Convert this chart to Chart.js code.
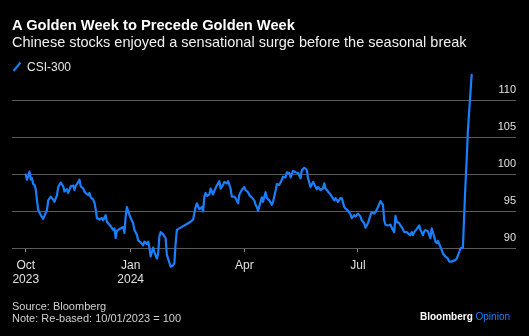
<!DOCTYPE html>
<html>
<head>
<meta charset="utf-8">
<script src="https://cdn.jsdelivr.net/npm/chart.js@4"></script>
<style>
  html, body { margin: 0; padding: 0; background: #000; }
  #wrap { position: relative; width: 529px; height: 336px; overflow: hidden; background: #000;
          font-family: "Liberation Sans", Arial, Helvetica, sans-serif; }
  #chart { position: absolute; left: 0; top: 0; }
  .t { position: absolute; white-space: nowrap; line-height: 1; }
  #title { left: 12px; top: 17.5px; font-size: 14.7px; font-weight: bold; color: #fff; }
  #subtitle { left: 12px; top: 34.6px; font-size: 14.5px; color: #f0f0f0; }
  #legend { left: 12px; top: 61px; font-size: 12px; color: #e6e6e6; }
  #legend svg { position: absolute; left: 0; top: 0; }
  #legend span { position: absolute; left: 15px; top: 0; }
  #source { left: 12px; top: 300.7px; font-size: 11px; color: #d0d0d0; }
  #note { left: 12px; top: 313px; font-size: 11px; color: #d0d0d0; }
  #brand { right: 19px; top: 311.5px; font-size: 10px; color: #fff; }
  #brand b { font-weight: bold; }
  #brand i { font-style: normal; color: #1a7fff; }
</style>
</head>
<body>
<div id="wrap">
  <canvas id="chart" width="529" height="336"></canvas>
  <div class="t" id="title">A Golden Week to Precede Golden Week</div>
  <div class="t" id="subtitle">Chinese stocks enjoyed a sensational surge before the seasonal break</div>
  <div class="t" id="legend">
    <svg width="12" height="12"><line x1="1.5" y1="10" x2="8.5" y2="1.5" stroke="#1a7fff" stroke-width="2"/></svg>
    <span>CSI-300</span>
  </div>
  <div class="t" id="source">Source: Bloomberg</div>
  <div class="t" id="note">Note: Re-based: 10/01/2023 = 100</div>
  <div class="t" id="brand"><b>Bloomberg</b> <i>Opinion</i></div>
</div>
<script>
// Days counted from 1 Oct 2023; index level re-based to 100
const days = [
  8, 9, 10, 11, 12, 13, 14, 15, 16, 17, 18, 20, 22, 23, 25, 26, 28, 30, 31, 33, 34, 36, 38, 39, 41, 42, 44, 46, 47, 48, 49, 51, 52, 54, 55, 56, 58, 59, 60, 62, 63, 64, 65, 67, 69, 70, 72, 73, 74, 76, 78,
  79, 80, 81, 82, 84, 86, 87, 88, 89, 90, 92, 94, 95, 97, 98, 100, 102, 103, 105, 106, 107, 108, 110, 111, 113, 114, 115, 116, 118, 120, 121, 122, 124, 126, 127, 128, 129, 133, 137, 140, 142, 144, 145, 147, 149, 150,
  151, 152, 153, 155, 156, 158, 159, 161, 163, 164, 166, 167, 169, 170, 172, 173, 175, 176, 178, 179, 181, 183, 184, 186, 187, 189, 191, 192, 193, 194, 196, 197, 198, 200, 201, 203, 205, 206, 208, 209, 211, 213, 214, 216, 217, 219, 220, 222,
  223, 224, 226, 228, 229, 231, 232, 233, 234, 236, 238, 239, 241, 242, 244, 246, 247, 248, 250, 252, 253, 255, 256, 258, 260, 261, 263, 264, 266, 268, 269, 271, 272, 274, 276, 277, 279, 280, 282, 284, 285, 287, 288, 290, 292, 293, 294,
  295, 296, 298, 300, 301, 303, 304, 305, 307, 308, 310, 311, 313, 315, 316, 317, 318, 319, 321, 323, 324, 326, 327, 328, 330, 332, 333, 335, 336, 337, 338, 340, 341, 342, 344, 346, 347, 349, 350, 352, 353, 355, 356, 358, 359, 360, 361, 362, 365
];
const csi300 = [
  100.0, 99.3, 99.8, 100.4, 99.35, 99.5, 98.7, 98.6, 98.0, 96.5, 95.2, 94.5, 94.0, 94.4, 95.2, 96.5, 97.0, 96.6, 96.3, 97.2, 98.3, 98.9, 98.4, 97.7, 98.0, 97.5, 98.4, 98.5, 97.9, 98.5, 98.7, 99.3, 98.4, 98.1, 97.7, 97.5, 97.2, 97.5, 96.9, 96.6, 96.2, 95.3, 94.1, 93.9, 94.1, 93.8, 94.5, 93.6, 93.4, 93.0, 92.5,
  92.7, 91.4, 92.4, 92.5, 92.7, 92.9, 92.1, 94.3, 95.6, 95.0, 94.1, 93.4, 92.5, 91.8, 91.1, 90.8, 90.4, 90.9, 90.6, 90.9, 90.1, 88.9, 90.1, 89.5, 88.6, 89.3, 91.6, 92.2, 91.9, 91.4, 89.1, 88.6, 87.5, 87.7, 88.0, 90.7, 92.5, 92.9, 93.3, 93.6, 93.9, 95.6, 96.1, 95.3, 95.6, 95.0,
  97.0, 97.5, 97.1, 97.3, 98.1, 97.3, 97.8, 98.5, 99.1, 98.1, 98.6, 99.0, 98.8, 99.1, 98.1, 97.0, 97.0, 96.8, 96.1, 97.3, 97.9, 98.3, 97.9, 97.6, 97.2, 96.9, 96.5, 95.9, 95.6, 95.1, 96.3, 96.9, 96.3, 97.6, 96.8, 96.5, 95.9, 96.3, 97.8, 98.7, 98.6, 99.3, 99.7, 99.6, 100.3, 100.2, 99.6, 100.5,
  100.4, 100.3, 100.2, 99.5, 100.6, 100.9, 100.8, 100.6, 99.5, 98.3, 99.0, 98.7, 98.0, 98.3, 97.9, 98.1, 98.8, 98.1, 97.7, 97.3, 97.0, 96.5, 96.8, 96.3, 96.8, 96.8, 95.6, 95.4, 95.1, 94.6, 94.1, 94.5, 94.3, 94.7, 94.3, 93.8, 93.4, 92.8, 93.4, 94.5, 94.9, 94.7, 94.9, 95.6, 96.4, 96.1, 95.9,
  93.8, 93.2, 93.1, 93.2, 92.8, 92.2, 94.4, 93.6, 93.4, 93.1, 92.6, 92.2, 92.2, 91.9, 91.8, 92.2, 91.8, 92.2, 92.6, 93.1, 92.5, 91.8, 92.3, 92.5, 92.3, 91.4, 92.7, 91.6, 90.9, 90.7, 91.0, 90.2, 89.8, 89.3, 88.9, 88.6, 88.2, 88.2, 88.3, 88.4, 88.6, 89.5, 90.0, 90.1, 94.5, 98.5, 102.0, 106.0, 113.5
];

// Axis ticks
const yTicks = [90, 95, 100, 105, 110];
const xTickDays = [8, 92, 183, 274];
const xTickLabels = [['Oct', '2023'], ['Jan', '2024'], 'Apr', 'Jul'];

const BLUE = '#1a7fff';
const FONT = '"Liberation Sans", Arial, Helvetica, sans-serif';

new Chart(document.getElementById('chart'), {
  type: 'line',
  data: {
    datasets: [{
      label: 'CSI-300',
      data: days.map((d, i) => ({ x: d, y: csi300[i] })),
      borderColor: BLUE,
      borderWidth: 2.2,
      pointRadius: 0,
      tension: 0,
      borderJoinStyle: 'round',
      borderCapStyle: 'round'
    }]
  },
  options: {
    responsive: false,
    animation: false,
    devicePixelRatio: 1,
    layout: { padding: { left: 12, right: 13, top: 72, bottom: 47 } },
    plugins: { legend: { display: false }, tooltip: { enabled: false } },
    scales: {
      x: {
        type: 'linear',
        min: -3,
        max: 400.5,
        position: { y: 90 },
        afterBuildTicks: s => { s.ticks = xTickDays.map(v => ({ value: v })); },
        ticks: {
          callback: (v, i) => xTickLabels[i],
          color: '#e0e0e0',
          font: { family: FONT, size: 12, lineHeight: 1.2 },
          maxRotation: 0,
          autoSkip: false,
          padding: 6
        },
        grid: { display: true, drawOnChartArea: false, drawTicks: true, tickLength: 4, color: '#8a8a8a', lineWidth: 1 },
        border: { display: false }
      },
      y: {
        position: 'right',
        min: 84.49,
        max: 113.89,
        afterBuildTicks: s => { s.ticks = yTicks.map(v => ({ value: v })); },
        ticks: {
          mirror: true,
          padding: 0,
          labelOffset: -10.5,
          color: '#e0e0e0',
          font: { family: FONT, size: 11 },
          callback: v => String(v)
        },
        grid: { color: '#5a5a5a', lineWidth: 1, drawTicks: false },
        border: { display: false }
      }
    }
  }
});
</script>
</body>
</html>
